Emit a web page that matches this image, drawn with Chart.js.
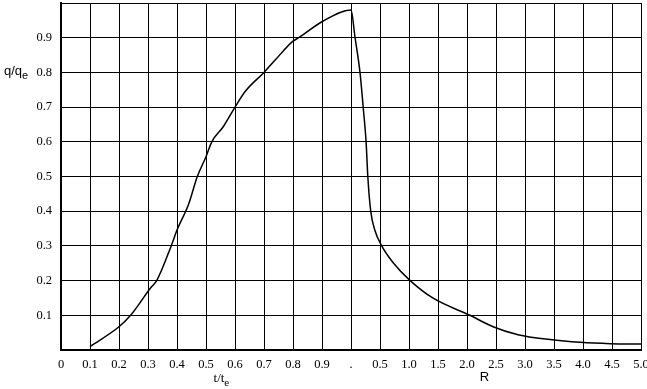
<!DOCTYPE html>
<html>
<head>
<meta charset="utf-8">
<script src="https://cdn.jsdelivr.net/npm/chart.js@4"></script>
<style>
html,body{margin:0;padding:0;background:#fff;}
#wrap{width:647px;height:389px;}
</style>
</head>
<body>
<div id="wrap"><canvas id="c" width="647" height="389"></canvas></div>
<script>
// Rising branch: q/qe versus t/te
const tValues = [0.10, 0.20, 0.24, 0.31, 0.33, 0.38, 0.40, 0.44, 0.47, 0.50, 0.52, 0.56, 0.60, 0.635, 0.70, 0.74, 0.80, 0.82, 0.90, 1.00];
const qRise   = [0.01, 0.067, 0.10, 0.18, 0.20, 0.30, 0.346, 0.42, 0.50, 0.557, 0.60, 0.644, 0.70, 0.745, 0.80, 0.837, 0.89, 0.90, 0.946, 0.98];
// Decay branch: q/qe versus R
const rValues = [0.07, 0.155, 0.21, 0.26, 0.29, 0.34, 0.41, 0.53, 0.72, 1.02, 1.41, 2.05, 2.45, 2.88, 3.43, 3.95, 4.47, 5.00];
const qDecay  = [0.90, 0.80, 0.70, 0.60, 0.50, 0.40, 0.346, 0.30, 0.253, 0.20, 0.15, 0.10, 0.067, 0.044, 0.030, 0.022, 0.018, 0.017];
// Tick labels along the combined axis (t/te 0..1 then R 0..5)
const xTickLabels = ["0","0.1","0.2","0.3","0.4","0.5","0.6","0.7","0.8","0.9",".","0.5","1.0","1.5","2.0","2.5","3.0","3.5","4.0","4.5","5.0"];
const yTickLabels = ["","0.1","0.2","0.3","0.4","0.5","0.6","0.7","0.8","0.9",""];

// Combined axis: t/te occupies units 0..10, R occupies units 10..20
const points = [];
tValues.forEach((t,i)=>points.push({x:t*10, y:qRise[i]}));
rValues.forEach((r,i)=>points.push({x:10 + r*2, y:qDecay[i]}));

const titles = {
  id:'titles',
  afterDraw(chart){
    const ctx = chart.ctx;
    const xs = chart.scales.x;
    ctx.save();
    ctx.fillStyle = '#000';
    ctx.textBaseline = 'alphabetic';
    // y label q/qe
    ctx.font = '13px "Liberation Sans", Arial, sans-serif';
    ctx.textAlign = 'left';
    ctx.fillText('q/q', 4, 75);
    let w = ctx.measureText('q/q').width;
    ctx.font = '11px "Liberation Sans", Arial, sans-serif';
    ctx.fillText('e', 4 + w, 79);
    // x title t/te
    ctx.font = '13px "Liberation Serif", "Times New Roman", serif';
    const tx = xs.getPixelForValue(5.55);
    ctx.textAlign = 'left';
    const tw = ctx.measureText('t/t').width;
    ctx.fillText('t/t', tx - tw/2 - 3, 382);
    ctx.font = '11px "Liberation Serif", "Times New Roman", serif';
    ctx.fillText('e', tx + tw/2 - 3, 386);
    // x title R
    ctx.font = '13px "Liberation Sans", Arial, sans-serif';
    ctx.textAlign = 'center';
    ctx.fillText('R', xs.getPixelForValue(14.6), 381);
    ctx.restore();
  }
};

new Chart(document.getElementById('c'), {
  type: 'line',
  data: {
    datasets: [{
      data: points,
      borderColor: '#000',
      borderWidth: 1.5,
      pointRadius: 0,
      fill: false,
      cubicInterpolationMode: 'monotone'
    }]
  },
  options: {
    responsive: false,
    animation: false,
    events: [],
    layout: { padding: { top: 3, right: 6, left: 0, bottom: 0 } },
    plugins: { legend: { display: false }, tooltip: { enabled: false } },
    scales: {
      x: {
        type: 'linear', min: 0, max: 20,
        afterFit(s){ s.height = 39; s.paddingLeft = 0; s.paddingRight = 0; },
        afterBuildTicks(s){ s.ticks = xTickLabels.map((_,i)=>({value:i})); },
        grid: { color: '#000', lineWidth: 1, drawTicks: false },
        border: { color: '#000', width: 2 },
        ticks: {
          autoSkip: false, maxRotation: 0, padding: 7,
          color: '#000',
          font: { family: '"Liberation Serif", "Times New Roman", serif', size: 12.5 },
          callback: (v)=> xTickLabels[Math.round(v)] ?? ''
        }
      },
      y: {
        type: 'linear', min: 0, max: 1,
        afterFit(s){ s.width = 61; s.paddingTop = 0; s.paddingBottom = 0; },
        afterBuildTicks(s){ s.ticks = yTickLabels.map((_,i)=>({value:i/10})); },
        grid: { color: '#000', lineWidth: 1, drawTicks: false },
        border: { color: '#000', width: 2 },
        ticks: {
          autoSkip: false, padding: 9,
          color: '#000',
          font: { family: '"Liberation Serif", "Times New Roman", serif', size: 12.5 },
          callback: (v)=> yTickLabels[Math.round(v*10)] ?? ''
        }
      }
    }
  },
  plugins: [titles]
});
</script>
</body>
</html>
